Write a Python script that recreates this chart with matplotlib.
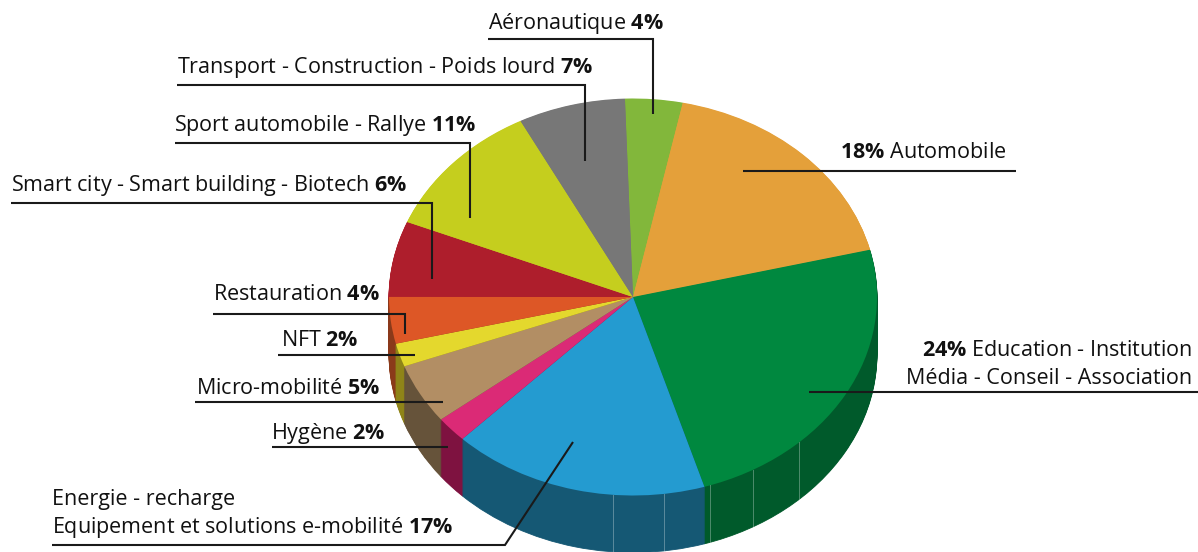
import numpy as np
import matplotlib
matplotlib.use("Agg")
import matplotlib.pyplot as plt

plt.rcParams["font.family"] = ["Open Sans", "DejaVu Sans"]
plt.rcParams["mathtext.fontset"] = "custom"
plt.rcParams["mathtext.rm"] = "Open Sans"
plt.rcParams["mathtext.bf"] = "Open Sans:bold"

sectors = ["Aeronautique", "Automobile", "Education", "Energie", "Hygiene", "Micro-mobilite",
           "NFT", "Restauration", "Smart city", "Sport", "Transport"]
shares = [3.8, 17.9, 24.1, 17.05, 2.1, 4.9, 1.9, 3.8, 6.15, 11.2, 7.1]
top_colors = ["#82b73b", "#e4a03a", "#00883f", "#249bd0", "#db2a76", "#b28e64",
              "#e4d82d", "#dd5726", "#ae1e2c", "#c5ce1e", "#777777"]
side_colors = ["#82b73b", "#e4a03a", "#005a2b", "#155874", "#7e1240", "#66533a",
               "#8f8418", "#8a3a1a", "#ae1e2c", "#c5ce1e", "#777777"]

labels = [
    (488, 23, "left", r"Aéronautique $\mathbf{4\%}$"),
    (177, 68, "left", r"Transport - Construction - Poids lourd $\mathbf{7\%}$"),
    (174, 126, "left", r"Sport automobile - Rallye $\mathbf{11\%}$"),
    (11, 186, "left", r"Smart city - Smart building - Biotech $\mathbf{6\%}$"),
    (213, 295, "left", r"Restauration $\mathbf{4\%}$"),
    (281, 341, "left", r"NFT $\mathbf{2\%}$"),
    (196, 388, "left", r"Micro-mobilité $\mathbf{5\%}$"),
    (271, 433, "left", r"Hygène $\mathbf{2\%}$"),
    (52, 499, "left", "Energie - recharge"),
    (52, 527, "left", r"Equipement et solutions e-mobilité $\mathbf{17\%}$"),
    (840, 153, "left", r"$\mathbf{18\%}$ Automobile"),
    (1192, 350, "right", r"$\mathbf{24\%}$ Education - Institution"),
    (1192, 379, "right", "Média - Conseil - Association"),
]

leaders = [
    ([488, 653, 653], [39, 39, 114]),
    ([177, 585, 585], [85, 85, 161]),
    ([175, 470, 470], [143, 143, 218]),
    ([11, 432, 432], [203, 203, 279]),
    ([213, 405, 405], [314, 314, 334]),
    ([278, 415], [355, 355]),
    ([195, 443], [402, 402]),
    ([272, 448], [447, 447]),
    ([52, 505, 573], [545, 545, 442]),
    ([743, 1016], [171, 171]),
    ([809, 1198], [392, 392]),
]

seam_x = [613, 664, 710, 753, 799]

W, H = 1198, 552
cx, cy, rx, ry, depth = 633, 297, 244, 198.5, 57

fig = plt.figure(figsize=(W / 100, H / 100), dpi=100)
ax = fig.add_axes([0, 0, 1, 1])

# side of the disc: same pie stacked downwards, top face last
for k in np.arange(depth, 0, -1.0):
    ax.pie(shares, colors=side_colors, startangle=91.9, counterclock=False,
           center=(0, -k / ry), wedgeprops={"linewidth": 0.6})
    for w, c in zip(ax.patches[-len(shares):], side_colors):
        w.set_edgecolor(c)
ax.pie(shares, colors=top_colors, startangle=91.9, counterclock=False,
       wedgeprops={"linewidth": 0})

ax.set_aspect("auto")
ax.set_xlim(-cx / rx, (W - cx) / rx)
ax.set_ylim(-(H - cy) / ry, cy / ry)
ax.axis("off")

# overlay in image pixels for the labels and leader lines
ov = fig.add_axes([0, 0, 1, 1], facecolor="none")
ov.set_xlim(0, W)
ov.set_ylim(H, 0)
ov.axis("off")

for x in seam_x:
    y0 = cy + ry * np.sqrt(1 - ((x - cx) / rx) ** 2)
    ov.plot([x, x], [y0, y0 + depth], color="white", lw=0.7, alpha=0.3)

for xs, ys in leaders:
    ov.plot(xs, ys, color="#1a1a1a", lw=1.5, solid_joinstyle="miter", solid_capstyle="butt")

for x, y, ha, s in labels:
    ov.text(x, y, s, ha=ha, va="center", fontsize=15.5, color="#111111")

fig.savefig("out.png", dpi=100)
